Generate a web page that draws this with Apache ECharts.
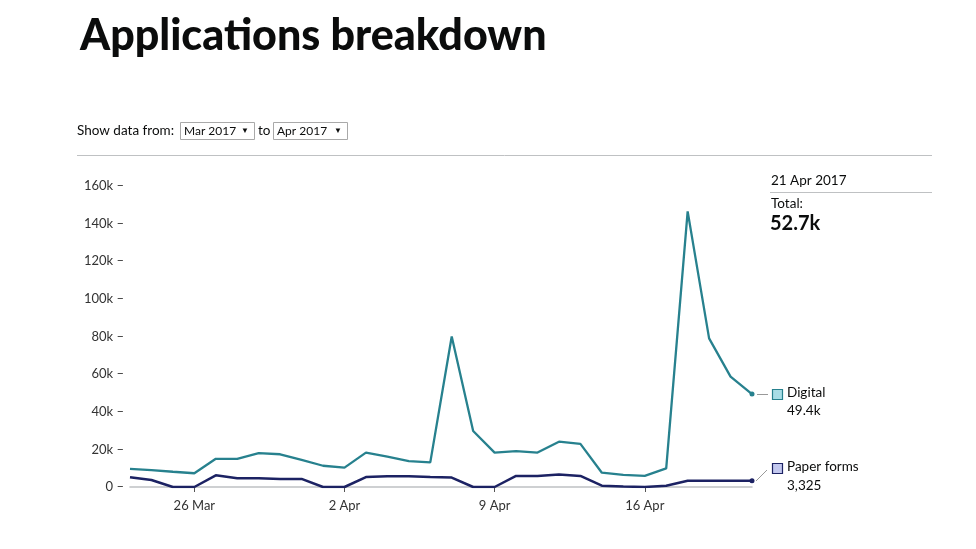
<!DOCTYPE html>
<html>
<head>
<meta charset="utf-8">
<script src="https://cdn.jsdelivr.net/npm/echarts@6/dist/echarts.min.js"></script>
<style>
html,body{margin:0;padding:0;background:#fff;}
#chart{width:976px;height:549px;}
</style>
</head>
<body>
<div id="chart"></div>
<script>
// ---- data ----
const dates = ['23 Mar','24 Mar','25 Mar','26 Mar','27 Mar','28 Mar','29 Mar','30 Mar','31 Mar','1 Apr',
  '2 Apr','3 Apr','4 Apr','5 Apr','6 Apr','7 Apr','8 Apr','9 Apr','10 Apr','11 Apr',
  '12 Apr','13 Apr','14 Apr','15 Apr','16 Apr','17 Apr','18 Apr','19 Apr','20 Apr','21 Apr'];
// values in thousands
const digital = [9.6, 9.0, 8.1, 7.3, 15.0, 15.0, 18.0, 17.4, 14.4, 11.3,
  10.3, 18.3, 16.1, 13.8, 13.1, 80.0, 29.8, 18.3, 19.1, 18.3,
  24.1, 22.9, 7.6, 6.4, 5.9, 9.9, 146.5, 79.0, 58.7, 49.4];
const paper = [5.2, 3.7, 0, 0, 6.2, 4.6, 4.6, 4.3, 4.3, 0,
  0, 5.3, 5.7, 5.7, 5.3, 5.0, 0, 0, 5.9, 5.9,
  6.7, 5.9, 0.7, 0.2, 0, 0.7, 3.3, 3.325, 3.325, 3.325];
const xTickLabels = ['26 Mar','2 Apr','9 Apr','16 Apr'];
const yTicks = [0, 20, 40, 60, 80, 100, 120, 140, 160];

const digitalColor = '#27818e';
const paperColor = '#1c2263';
const FONT = 'Lato, "Open Sans", sans-serif';

function withEndDot(arr){
  return arr.map((v,i)=> i===arr.length-1 ? {value:v, symbol:'circle', symbolSize:5} : {value:v, symbol:'none'});
}
const showTick = (idx, val) => xTickLabels.indexOf(val) >= 0;

const chart = echarts.init(document.getElementById('chart'), null, {renderer:'canvas'});
chart.setOption({
  animation:false,
  backgroundColor:'#ffffff',
  title:{
    text:'Applications breakdown',
    left:75, top:10,
    textStyle:{fontFamily:FONT, fontSize:43, fontWeight:900, color:'#0b0c0c'}
  },
  grid:{left:130, right:224, top:186, bottom:62},
  xAxis:[{
    type:'category',
    data:dates,
    boundaryGap:false,
    offset:7,
    axisLine:{show:false},
    axisTick:{show:true, alignWithLabel:true, interval:showTick, length:5, lineStyle:{color:'#555', width:1}},
    axisLabel:{interval:showTick, margin:5, fontFamily:FONT, fontSize:13, color:'#333'},
    splitLine:{show:false}
  },{
    type:'category',
    data:dates,
    boundaryGap:false,
    position:'bottom',
    axisLine:{show:true, lineStyle:{color:'#bfc1c3', width:1.5}},
    axisTick:{show:false},
    axisLabel:{show:false},
    splitLine:{show:false}
  }],
  yAxis:{
    type:'value',
    min:yTicks[0], max:yTicks[yTicks.length-1], interval:20,
    axisLine:{show:false}, axisTick:{show:false}, splitLine:{show:false},
    axisLabel:{margin:6, fontFamily:FONT, fontSize:13, color:'#333',
      formatter:v => (v===0 ? '0' : v+'k') + ' \u2013'}
  },
  series:[
    {
      name:'Digital', type:'line', z:2, xAxisIndex:0,
      data:withEndDot(digital),
      showSymbol:true,
      lineStyle:{color:digitalColor, width:2.3},
      itemStyle:{color:digitalColor}
    },
    {
      name:'Paper forms', type:'line', z:3, xAxisIndex:0,
      data:withEndDot(paper),
      showSymbol:true,
      lineStyle:{color:paperColor, width:2.5},
      itemStyle:{color:paperColor}
    }
  ],
  graphic:[
    // filter controls
    {type:'text', left:77, top:124, style:{text:'Show data from:', font:'13.5px '+FONT, fill:'#0b0c0c'}},
    {type:'rect', shape:{x:180.5, y:122.5, width:74, height:17}, style:{fill:'#fff', stroke:'#a9a9a9', lineWidth:1}},
    {type:'text', left:184, top:125, style:{text:'Mar 2017', font:'12px '+FONT, fill:'#0b0c0c'}},
    {type:'text', left:241, top:126, style:{text:'\u25BC', font:'8px '+FONT, fill:'#0b0c0c'}},
    {type:'text', left:258, top:124, style:{text:'to', font:'13.5px '+FONT, fill:'#0b0c0c'}},
    {type:'rect', shape:{x:273.5, y:122.5, width:74, height:17}, style:{fill:'#fff', stroke:'#a9a9a9', lineWidth:1}},
    {type:'text', left:277, top:125, style:{text:'Apr 2017', font:'12px '+FONT, fill:'#0b0c0c'}},
    {type:'text', left:334, top:126, style:{text:'\u25BC', font:'8px '+FONT, fill:'#0b0c0c'}},
    {type:'line', shape:{x1:77, y1:155.5, x2:932, y2:155.5}, style:{stroke:'#bfc1c3', lineWidth:1}},
    // right panel
    {type:'text', left:771, top:174, style:{text:'21 Apr 2017', font:'13.5px '+FONT, fill:'#0b0c0c'}},
    {type:'line', shape:{x1:770, y1:192.5, x2:932, y2:192.5}, style:{stroke:'#bfc1c3', lineWidth:1}},
    {type:'text', left:771, top:197, style:{text:'Total:', font:'13.5px '+FONT, fill:'#0b0c0c'}},
    {type:'text', left:770, top:214, style:{text:'52.7k', font:'bold 20px '+FONT, fill:'#0b0c0c'}},
    // series labels
    {type:'line', shape:{x1:757, y1:394.5, x2:768, y2:394.5}, style:{stroke:'#999', lineWidth:1}},
    {type:'rect', shape:{x:772.5, y:389.5, width:10, height:10}, style:{fill:'#a8dde6', stroke:digitalColor, lineWidth:1.2}},
    {type:'text', left:787, top:386, style:{text:'Digital', font:'13.5px '+FONT, fill:'#0b0c0c'}},
    {type:'text', left:787, top:404, style:{text:'49.4k', font:'13.5px '+FONT, fill:'#0b0c0c'}},
    {type:'line', shape:{x1:756, y1:481, x2:767, y2:470}, style:{stroke:'#999', lineWidth:1}},
    {type:'rect', shape:{x:772.5, y:463.5, width:10, height:10}, style:{fill:'#c3c8ef', stroke:paperColor, lineWidth:1.2}},
    {type:'text', left:787, top:460, style:{text:'Paper forms', font:'13.5px '+FONT, fill:'#0b0c0c'}},
    {type:'text', left:787, top:479, style:{text:'3,325', font:'13.5px '+FONT, fill:'#0b0c0c'}}
  ]
});
</script>
</body>
</html>
